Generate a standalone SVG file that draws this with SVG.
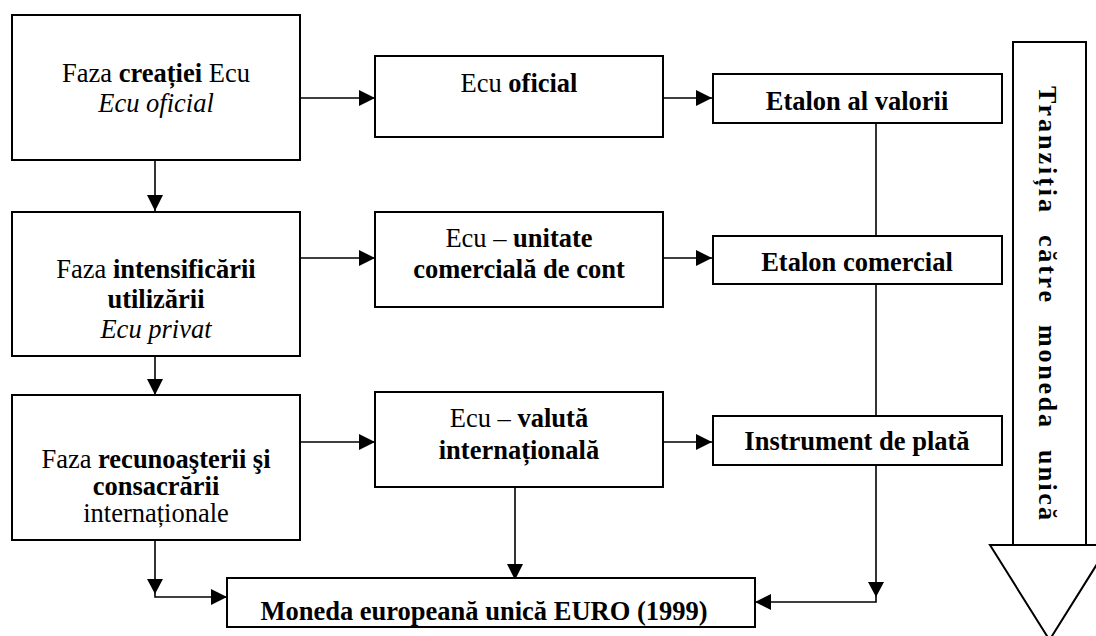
<svg xmlns="http://www.w3.org/2000/svg" width="1096" height="636" viewBox="0 0 1096 636">
<style>
.box{fill:#fff;stroke:#000;stroke-width:2}
.ln{fill:none;stroke:#000;stroke-width:1.6}
.t{font-family:"Liberation Serif","Times New Roman",serif;font-size:26.5px;fill:#000;text-anchor:middle}
.b{font-weight:bold}
.i{font-style:italic}
.v{font-family:"Liberation Serif","Times New Roman",serif;font-size:26px;font-weight:bold;fill:#000}
</style>
<defs>
<marker id="ah" viewBox="0 0 16 16" refX="16" refY="8" markerWidth="16" markerHeight="16" orient="auto" markerUnits="userSpaceOnUse"><path d="M0,0 L16,8 L0,16 z" fill="#000"/></marker>
</defs>
<rect width="1096" height="636" fill="#fff"/>

<g id="connectors">
<path class="ln" d="M300,98 H375" marker-end="url(#ah)"/>
<path class="ln" d="M663,98 H712" marker-end="url(#ah)"/>
<path class="ln" d="M155,160 V211" marker-end="url(#ah)"/>
<path class="ln" d="M300,258 H375" marker-end="url(#ah)"/>
<path class="ln" d="M663,258 H712" marker-end="url(#ah)"/>
<path class="ln" d="M155,356 V395" marker-end="url(#ah)"/>
<path class="ln" d="M300,442 H375" marker-end="url(#ah)"/>
<path class="ln" d="M663,442 H712" marker-end="url(#ah)"/>
<path class="ln" d="M876,123 V236"/>
<path class="ln" d="M876,284 V416"/>
<path class="ln" d="M515,487 V580" marker-end="url(#ah)"/>
<path class="ln" d="M155,540 V597 H227" marker-end="url(#ah)"/>
<path d="M147,579 L163,579 L155,594 z" fill="#000"/>
<path class="ln" d="M876,465 V602 H755" marker-end="url(#ah)"/>
<path d="M868,582 L884,582 L876,597 z" fill="#000"/>
</g>

<g id="n1">
<rect class="box" x="12" y="15" width="288" height="145"/>
<text class="t" x="156" y="82">Faza <tspan class="b">creației</tspan> Ecu</text>
<text class="t i" x="156" y="112">Ecu oficial</text>
</g>
<g id="n2">
<rect class="box" x="375" y="56" width="288" height="81"/>
<text class="t" x="519" y="92">Ecu <tspan class="b">oficial</tspan></text>
</g>
<g id="n3">
<rect class="box" x="713" y="74" width="289" height="49"/>
<text class="t b" x="857" y="110">Etalon al valorii</text>
</g>
<g id="n4">
<rect class="box" x="12" y="212" width="288" height="144"/>
<text class="t" x="156" y="278">Faza <tspan class="b">intensificării</tspan></text>
<text class="t b" x="156" y="308">utilizării</text>
<text class="t i" x="156" y="338">Ecu privat</text>
</g>
<g id="n5">
<rect class="box" x="375" y="212" width="288" height="95"/>
<text class="t" x="519" y="247">Ecu – <tspan class="b">unitate</tspan></text>
<text class="t b" x="519" y="278">comercială de cont</text>
</g>
<g id="n6">
<rect class="box" x="713" y="236" width="289" height="48"/>
<text class="t b" x="857" y="271">Etalon comercial</text>
</g>
<g id="n7">
<rect class="box" x="12" y="395" width="288" height="145"/>
<text class="t" x="156" y="468">Faza <tspan class="b">recunoaşterii şi</tspan></text>
<text class="t b" x="156" y="495">consacrării</text>
<text class="t" x="156" y="522">internaționale</text>
</g>
<g id="n8">
<rect class="box" x="375" y="392" width="288" height="95"/>
<text class="t" x="519" y="427">Ecu – <tspan class="b">valută</tspan></text>
<text class="t b" x="519" y="459">internațională</text>
</g>
<g id="n9">
<rect class="box" x="713" y="416" width="289" height="49"/>
<text class="t b" x="857" y="450">Instrument de plată</text>
</g>
<g id="n10">
<rect class="box" x="227" y="578" width="528" height="49"/>
<text class="t b" x="484" y="620">Moneda europeană unică EURO (1999)</text>
</g>
<g id="n11">
<path class="box" d="M1013,546 V42 H1086 V546"/>
<path class="box" d="M990,545 L1109,545 L1049.5,640 Z"/>
<g transform="translate(1039,0) rotate(90)">
<text class="v" x="86" y="0" textLength="126" lengthAdjust="spacing">Tranziția</text>
<text class="v" x="235" y="0" textLength="67" lengthAdjust="spacing">către</text>
<text class="v" x="325" y="0" textLength="102" lengthAdjust="spacing">moneda</text>
<text class="v" x="450" y="0" textLength="70" lengthAdjust="spacing">unică</text>
</g>
</g>
</svg>
